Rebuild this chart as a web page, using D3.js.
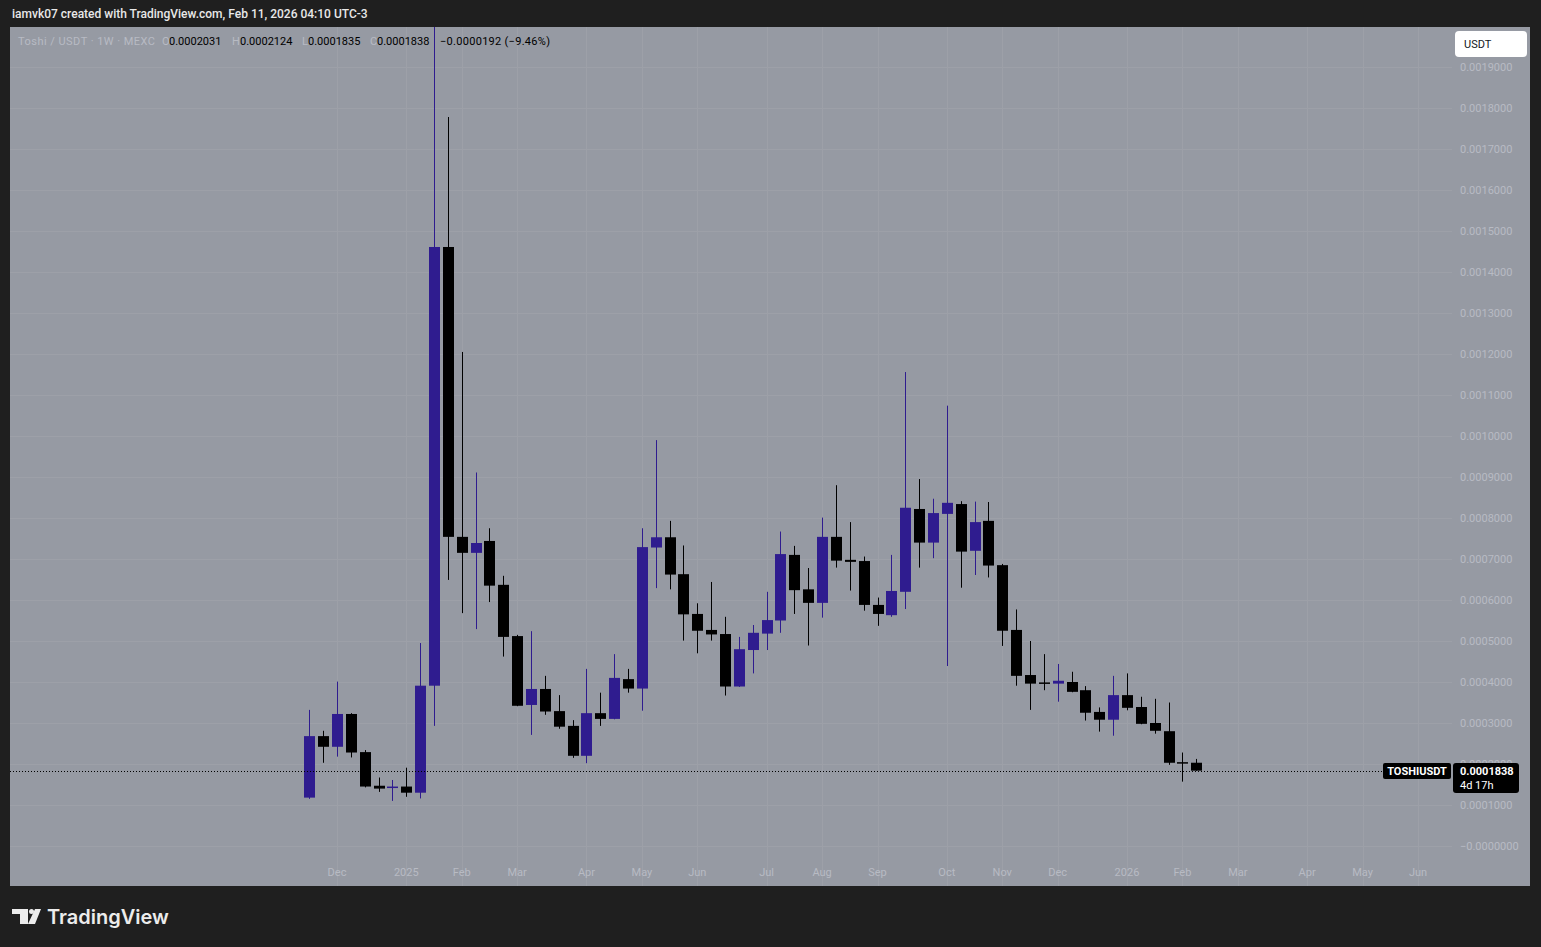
<!DOCTYPE html>
<html><head><meta charset="utf-8">
<script src="https://cdn.jsdelivr.net/npm/d3@7"></script>
<style>
html,body{margin:0;padding:0;background:#1f1f1f;overflow:hidden;}
svg{display:block;font-family:Roboto,"Noto Sans",sans-serif;}
</style></head><body>
<svg id="chart" width="1541" height="947"></svg>
<script>
// ---------- DATA ----------
const weekDates = ["2024-11-18","2024-11-25","2024-12-02","2024-12-09","2024-12-16","2024-12-23","2024-12-30",
"2025-01-06","2025-01-13","2025-01-20","2025-01-27","2025-02-03","2025-02-10","2025-02-17","2025-02-24",
"2025-03-03","2025-03-10","2025-03-17","2025-03-24","2025-03-31","2025-04-07","2025-04-14","2025-04-21","2025-04-28",
"2025-05-05","2025-05-12","2025-05-19","2025-05-26","2025-06-02","2025-06-09","2025-06-16","2025-06-23","2025-06-30",
"2025-07-07","2025-07-14","2025-07-21","2025-07-28","2025-08-04","2025-08-11","2025-08-18","2025-08-25",
"2025-09-01","2025-09-08","2025-09-15","2025-09-22","2025-09-29","2025-10-06","2025-10-13","2025-10-20","2025-10-27",
"2025-11-03","2025-11-10","2025-11-17","2025-11-24","2025-12-01","2025-12-08","2025-12-15","2025-12-22","2025-12-29",
"2026-01-05","2026-01-12","2026-01-19","2026-01-26","2026-02-02","2026-02-09"];

const openVals = [0.000118,0.000268,0.000242,0.000322,0.000229,0.000147,0.000144,
0.000145,0.000130,0.000391,0.001461,0.000754,0.000715,0.000744,0.000637,
0.000512,0.000344,0.000383,0.000329,0.000293,0.000220,0.000324,0.000310,0.000407,
0.000384,0.000728,0.000753,0.000663,0.000566,0.000527,0.000517,0.000389,0.000478,
0.000518,0.000550,0.000710,0.000626,0.000593,0.000754,0.000698,0.000695,
0.000588,0.000563,0.000620,0.000822,0.000740,0.000810,0.000834,0.000720,0.000793,
0.000685,0.000527,0.000417,0.000399,0.000396,0.000400,0.000380,0.000327,0.000308,
0.000368,0.000339,0.000300,0.000280,0.0002045,0.0002031];

const highVals = [0.000332,0.000281,0.000401,0.000324,0.000234,0.000167,0.000161,
0.000191,0.000495,0.002000,0.001778,0.001205,0.000911,0.000775,0.000659,
0.000515,0.000524,0.000415,0.000368,0.000307,0.000432,0.000374,0.000468,0.000432,
0.000775,0.000990,0.000793,0.000733,0.000592,0.000644,0.000559,0.000510,0.000539,
0.000620,0.000767,0.000732,0.000678,0.000801,0.000880,0.000790,0.000706,
0.000606,0.000710,0.001156,0.000895,0.000847,0.001074,0.000841,0.000840,0.000839,
0.000688,0.000577,0.000500,0.000468,0.000444,0.000425,0.000390,0.000338,0.000415,
0.000421,0.000364,0.000359,0.000350,0.000228,0.0002124];

const lowVals = [0.000115,0.000203,0.000218,0.000216,0.000143,0.000132,0.000110,
0.000120,0.000116,0.000293,0.000649,0.000568,0.000529,0.000595,0.000462,
0.000341,0.000271,0.000320,0.000286,0.000215,0.000202,0.000293,0.000309,0.000374,
0.000330,0.000629,0.000626,0.000501,0.000470,0.000501,0.000367,0.000388,0.000421,
0.000478,0.000520,0.000566,0.000489,0.000557,0.000679,0.000623,0.000574,
0.000537,0.000559,0.000578,0.000679,0.000702,0.000439,0.000630,0.000661,0.000655,
0.000488,0.000391,0.000332,0.000380,0.000352,0.000375,0.000306,0.000279,0.000269,
0.000331,0.000297,0.000274,0.000198,0.000157,0.0001835];

const closeVals = [0.000268,0.000242,0.000322,0.000228,0.000145,0.000140,0.000145,
0.000130,0.000391,0.001461,0.000754,0.000715,0.000739,0.000635,0.000510,
0.000342,0.000383,0.000328,0.000291,0.000220,0.000324,0.000310,0.000410,0.000384,
0.000729,0.000753,0.000662,0.000565,0.000525,0.000516,0.000389,0.000480,0.000520,
0.000551,0.000712,0.000624,0.000593,0.000754,0.000696,0.000693,0.000588,
0.000566,0.000622,0.000825,0.000740,0.000812,0.000837,0.000718,0.000790,0.000684,
0.000525,0.000415,0.000396,0.000398,0.000403,0.000376,0.000325,0.000308,0.000368,
0.000337,0.000298,0.000281,0.000203,0.0002031,0.0001838];

const monthTickDates = ["2024-12-02","2025-01-06","2025-02-03","2025-03-03","2025-04-07","2025-05-05","2025-06-02",
"2025-07-07","2025-08-04","2025-09-01","2025-10-06","2025-11-03","2025-12-01","2026-01-05","2026-02-02",
"2026-03-02","2026-04-06","2026-05-04","2026-06-01"];
const monthTickLabels = ["Dec","2025","Feb","Mar","Apr","May","Jun","Jul","Aug","Sep","Oct","Nov","Dec","2026","Feb","Mar","Apr","May","Jun"];

const priceTicks = [0,0.0001,0.0002,0.0003,0.0004,0.0005,0.0006,0.0007,0.0008,0.0009,0.0010,
0.0011,0.0012,0.0013,0.0014,0.0015,0.0016,0.0017,0.0018,0.0019];
const priceTickLabels = ["\u22120.0000000","0.0001000","0.0002000","0.0003000","0.0004000","0.0005000","0.0006000",
"0.0007000","0.0008000","0.0009000","0.0010000","0.0011000","0.0012000","0.0013000","0.0014000","0.0015000",
"0.0016000","0.0017000","0.0018000","0.0019000"];

const lastPrice = 0.0001838;
const headerText = "iamvk07 created with TradingView.com, Feb 11, 2026 04:10 UTC-3";
const legendItems = [
  {t:"Toshi / USDT \u00b7 1W \u00b7 MEXC", x:18, c:"faint", len:137},
  {t:"O", x:162, c:"faint"}, {t:"0.0002031", x:169, c:"dark"},
  {t:"H", x:232, c:"faint"}, {t:"0.0002124", x:240, c:"dark"},
  {t:"L", x:302, c:"faint"}, {t:"0.0001835", x:308, c:"dark"},
  {t:"C", x:370, c:"faint"}, {t:"0.0001838", x:377, c:"dark"},
  {t:"\u22120.0000192 (\u22129.46%)", x:440, c:"dark", len:110}
];

// ---------- LAYOUT ----------
const W = 1541, H = 947;
const panel = {x0:10, y0:27, x1:1530, y1:886};
const plotRight = 1452;
const colBg = "#969aa3", colGrid = "#9da0a8", colAxis = "#b8bbc3";
const colUp = "#2f1c8f", colDown = "#000000";

const svg = d3.select("#chart");
const parse = d3.utcParse("%Y-%m-%d");

const x = d3.scaleUtc().domain([parse("2024-12-02"), parse("2026-06-01")]).range([337, 1418]);
const y = d3.scaleLinear().domain([0, 0.0019]).range([846, 67]);

svg.append("rect").attr("width",W).attr("height",H).attr("fill","#1f1f1f");
svg.append("rect").attr("x",panel.x0).attr("y",panel.y0).attr("width",panel.x1-panel.x0).attr("height",panel.y1-panel.y0)
  .attr("fill",colBg);

// header
svg.append("text").attr("x",12).attr("y",18).attr("fill","#e8e8e8").attr("font-size",12).attr("font-weight",500)
  .text(headerText);

// grid
const grid = svg.append("g");
grid.selectAll("line.h").data(priceTicks).join("line")
  .attr("x1",panel.x0).attr("x2",plotRight)
  .attr("y1",d=>Math.round(y(d))+0.5).attr("y2",d=>Math.round(y(d))+0.5)
  .attr("stroke",colGrid).attr("stroke-width",1);
grid.selectAll("line.v").data(monthTickDates).join("line")
  .attr("x1",d=>Math.round(x(parse(d)))+0.5).attr("x2",d=>Math.round(x(parse(d)))+0.5)
  .attr("y1",panel.y0).attr("y2",panel.y1)
  .attr("stroke",colGrid).attr("stroke-width",1);

// clip
svg.append("clipPath").attr("id","plotclip").append("rect")
  .attr("x",panel.x0).attr("y",panel.y0).attr("width",plotRight-panel.x0).attr("height",panel.y1-panel.y0);

const candles = weekDates.map((d,i)=>({date:parse(d),o:openVals[i],h:highVals[i],l:lowVals[i],c:closeVals[i]}));
const cg = svg.append("g").attr("clip-path","url(#plotclip)");
const g = cg.selectAll("g.c").data(candles).join("g");
g.append("rect")
  .attr("x",d=>Math.round(x(d.date)))
  .attr("width",1)
  .attr("y",d=>y(d.h))
  .attr("height",d=>Math.max(1,y(d.l)-y(d.h)))
  .attr("fill",d=>d.c>=d.o?colUp:colDown);
g.append("rect")
  .attr("x",d=>Math.round(x(d.date))-5)
  .attr("width",11)
  .attr("y",d=>y(Math.max(d.o,d.c)))
  .attr("height",d=>Math.max(1.5,Math.abs(y(d.o)-y(d.c))))
  .attr("fill",d=>d.c>=d.o?colUp:colDown);

// last price dotted line
const yp = Math.round(y(lastPrice))+0.5;
svg.append("line").attr("x1",panel.x0).attr("x2",1383).attr("y1",yp).attr("y2",yp)
  .attr("stroke","#000").attr("stroke-width",1).attr("stroke-dasharray","1,2");

// legend
svg.append("g").selectAll("text").data(legendItems).join("text")
  .attr("x",d=>d.x).attr("y",45).attr("font-size",11)
  .attr("textLength",d=>d.len?d.len:null).attr("lengthAdjust","spacing")
  .attr("fill",d=>d.c==="faint"?colAxis:"#000").text(d=>d.t);

// y axis labels
svg.append("g").selectAll("text").data(priceTicks).join("text")
  .attr("x",1460).attr("y",d=>y(d)+4).attr("font-size",11).attr("fill",colAxis)
  .text((d,i)=>priceTickLabels[i]);

// x axis labels
svg.append("g").selectAll("text").data(monthTickDates).join("text")
  .attr("x",d=>x(parse(d))).attr("y",876).attr("text-anchor","middle").attr("font-size",11).attr("fill",colAxis)
  .text((d,i)=>monthTickLabels[i]);

// USDT button
svg.append("rect").attr("x",1455).attr("y",31).attr("width",72).attr("height",26).attr("rx",4).attr("fill","#ffffff");
svg.append("text").attr("x",1464).attr("y",48).attr("font-size",11).attr("fill","#131722").text("USDT");

// price labels
svg.append("rect").attr("x",1383).attr("y",763).attr("width",68).attr("height",16).attr("rx",2).attr("fill","#000");
svg.append("text").attr("x",1417).attr("y",775).attr("text-anchor","middle").attr("font-size",11).attr("font-weight",700)
  .attr("fill","#fff").text("TOSHIUSDT");
svg.append("rect").attr("x",1453).attr("y",763).attr("width",66).attr("height",30).attr("rx",3).attr("fill","#000");
svg.append("text").attr("x",1460).attr("y",775).attr("font-size",11).attr("font-weight",700).attr("fill","#fff")
  .text(d3.format(".7f")(lastPrice));
svg.append("text").attr("x",1460).attr("y",789).attr("font-size",11).attr("fill","#fff").text("4d 17h");

// logo
const logo = svg.append("g").attr("fill","#ececec");
logo.append("rect").attr("x",12).attr("y",909).attr("width",16).attr("height",5);
logo.append("rect").attr("x",20).attr("y",909).attr("width",8).attr("height",15);
logo.append("circle").attr("cx",31.5).attr("cy",911.5).attr("r",2.5);
logo.append("polygon").attr("points","35,909 41,909 35,924 28,924");
svg.append("text").attr("x",47).attr("y",924).attr("font-family","Inter, Roboto, sans-serif").attr("font-size",20)
  .attr("font-weight",600).attr("fill","#ececec").text("TradingView");
</script>
</body></html>
